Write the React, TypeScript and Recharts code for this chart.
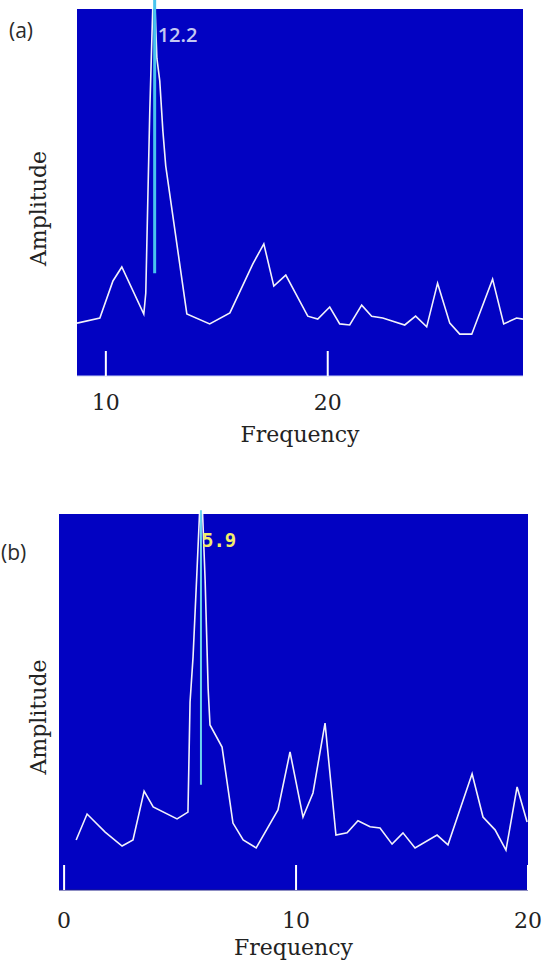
import React from "react";
import {
  LineChart,
  Line,
  XAxis,
  YAxis,
  CartesianGrid,
  ReferenceLine,
  ReferenceDot,
} from "recharts";

// panel (a) spectrum
const freqA = [
  8.7, 9.73, 10.32, 10.72, 11.71, 11.8, 11.89, 11.98, 12.16, 12.3, 12.43, 12.57,
  12.7, 13.65, 14.68, 15.59, 16.62, 17.12, 17.57, 18.11, 19.1, 19.55, 20.09,
  20.54, 20.99, 21.53, 21.98, 22.48, 23.47, 23.96, 24.46, 24.95, 25.5, 25.95,
  26.49, 27.43, 27.93, 28.51, 28.8,
];
const ampA = [
  14.4, 15.8, 25.9, 29.7, 16.9, 22.6, 47.7, 72.2, 110, 86.6, 80.4, 66.8, 57.2,
  16.9, 14.2, 17.2, 30.5, 36.0, 24.5, 27.5, 16.3, 15.5, 18.8, 14.2, 13.9, 19.3,
  16.3, 15.8, 13.9, 16.3, 13.4, 25.3, 14.4, 11.4, 11.4, 26.4, 14.2, 15.8, 15.5,
];
const ticksA = [10, 20];
const peakA = 12.2;

// panel (b) spectrum
const freqB = [
  0.52, 0.99, 1.77, 2.5, 2.97, 3.45, 3.84, 4.87, 5.34, 5.43, 5.56, 5.73, 5.91,
  6.08, 6.21, 6.29, 6.81, 7.28, 7.72, 8.28, 9.22, 9.74, 10.3, 10.73, 11.25,
  11.72, 12.2, 12.67, 13.19, 13.62, 14.14, 14.61, 15.13, 16.08, 16.55, 17.59,
  18.06, 18.58, 19.05, 19.53, 19.96,
];
const ampB = [
  13.3, 20.2, 15.4, 11.7, 13.3, 26.3, 22.1, 18.9, 20.7, 50, 62, 85, 110, 82.4,
  53.5, 43.9, 38, 17.8, 13.3, 11.2, 21.3, 36.7, 19.4, 25.8, 44.4, 14.6, 15.2,
  18.4, 16.8, 16.5, 12.2, 15.2, 11.2, 14.6, 12.0, 30.9, 19.4, 16.0, 10.6, 27.4,
  18.1,
];
const ticksB = [0, 10, 20];
const peakB = 5.9;

const dataA = freqA.map((f, i) => ({ f, amp: ampA[i] }));
const dataB = freqB.map((f, i) => ({ f, amp: ampB[i] }));

const BLUE = "#0202c2";
const SERIF = "DejaVu Serif";

const FreqTick = (props: any) => {
  const { x, y, payload, textDy } = props;
  return (
    <g>
      <line x1={x} x2={x} y1={y - 25} y2={y} stroke="#ffffff" strokeWidth={2} />
      <text
        x={x}
        y={y + textDy}
        textAnchor="middle"
        fontFamily={SERIF}
        fontSize={22}
        fill="#222"
      >
        {payload.value}
      </text>
    </g>
  );
};

const panelLabel: React.CSSProperties = {
  position: "absolute",
  fontFamily: "Open Sans",
  fontSize: 21,
  color: "#2a2a2a",
  lineHeight: "24px",
};

export default function App() {
  return (
    <div
      style={{
        position: "absolute",
        left: 0,
        top: 0,
        width: 545,
        height: 967,
        background: "#fff",
        overflow: "hidden",
      }}
    >
      <div style={{ ...panelLabel, left: 9, top: 18 }}>(a)</div>
      <div style={{ ...panelLabel, left: 1, top: 540 }}>(b)</div>

      <div style={{ position: "absolute", left: 0, top: 0 }}>
        <LineChart
          width={545}
          height={480}
          data={dataA}
          margin={{ top: 9, right: 22, left: 0, bottom: 26 }}
        >
          <CartesianGrid fill={BLUE} fillOpacity={1} horizontal={false} vertical={false} />
          <XAxis
            dataKey="f"
            type="number"
            domain={[8.7, 28.8]}
            ticks={ticksA}
            allowDataOverflow
            height={78}
            tickSize={0}
            tickMargin={0}
            tickLine={false}
            axisLine={{ stroke: "#c8d0f4" }}
            tick={<FreqTick textDy={34} />}
            label={{
              value: "Frequency",
              position: "insideBottom",
              offset: 12,
              fontFamily: SERIF,
              fontSize: 22,
              fill: "#222",
            }}
          />
          <YAxis
            type="number"
            domain={[0, 100]}
            allowDataOverflow
            width={77}
            tick={false}
            tickLine={false}
            axisLine={false}
            label={{
              value: "Amplitude",
              angle: -90,
              position: "center",
              dy: 16,
              fontFamily: SERIF,
              fontSize: 22,
              fill: "#222",
            }}
          />
          <Line
            type="linear"
            dataKey="amp"
            stroke="#f2f2fa"
            strokeWidth={1.6}
            dot={false}
            isAnimationActive={false}
          />
          <ReferenceLine
            segment={[
              { x: peakA, y: 28 },
              { x: peakA, y: 102.5 },
            ]}
            stroke="#48c4ee"
            strokeWidth={3}
            ifOverflow="visible"
          />
          <ReferenceDot
            x={peakA}
            y={93}
            r={0}
            fill="none"
            stroke="none"
            label={{
              value: String(peakA),
              position: "right",
              offset: 3,
              fontFamily: "Open Sans",
              fontSize: 20,
              fontWeight: 600,
              fill: "#c4c8f2",
            }}
          />
        </LineChart>
      </div>

      <div style={{ position: "absolute", left: 0, top: 480 }}>
        <LineChart
          width={545}
          height={487}
          data={dataB}
          margin={{ top: 34, right: 17, left: 0, bottom: 7 }}
        >
          <CartesianGrid fill={BLUE} fillOpacity={1} horizontal={false} vertical={false} />
          <XAxis
            dataKey="f"
            type="number"
            domain={[-0.22, 20.0]}
            ticks={ticksB}
            allowDataOverflow
            height={70}
            tickSize={0}
            tickMargin={0}
            tickLine={false}
            axisLine={{ stroke: "#1c1c88" }}
            tick={<FreqTick textDy={38} />}
            label={{
              value: "Frequency",
              position: "insideBottom",
              offset: 5,
              fontFamily: SERIF,
              fontSize: 22,
              fill: "#222",
            }}
          />
          <YAxis
            type="number"
            domain={[0, 100]}
            allowDataOverflow
            width={59}
            tick={false}
            tickLine={false}
            axisLine={false}
            label={{
              value: "Amplitude",
              angle: -90,
              position: "center",
              dx: 9,
              dy: 15,
              fontFamily: SERIF,
              fontSize: 22,
              fill: "#222",
            }}
          />
          <Line
            type="linear"
            dataKey="amp"
            stroke="#f2f2fa"
            strokeWidth={1.6}
            dot={false}
            isAnimationActive={false}
          />
          <ReferenceLine
            segment={[
              { x: peakB, y: 28 },
              { x: peakB, y: 101 },
            ]}
            stroke="#6cd4f0"
            strokeWidth={2}
            ifOverflow="visible"
          />
          <ReferenceDot
            x={peakB}
            y={93}
            r={0}
            fill="none"
            stroke="none"
            label={{
              value: String(peakB),
              position: "right",
              offset: 1,
              fontFamily: "DejaVu Sans Mono",
              fontSize: 19,
              fontWeight: 700,
              fill: "#f2ee6a",
            }}
          />
        </LineChart>
      </div>
    </div>
  );
}
